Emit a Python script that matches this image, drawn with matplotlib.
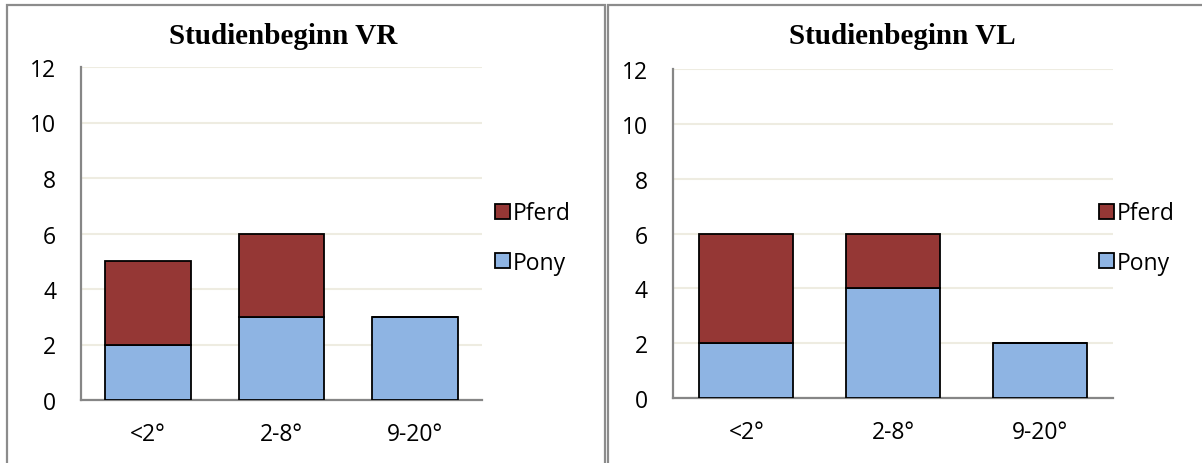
import matplotlib
matplotlib.use("Agg")
import matplotlib.pyplot as plt
from matplotlib.patches import Rectangle, Patch

categories = ["<2°", "2-8°", "9-20°"]
panel_titles = ["Studienbeginn VR", "Studienbeginn VL"]
pony_vr = [2, 3, 3]
pferd_vr = [3, 3, 0]
pony_vl = [2, 4, 2]
pferd_vl = [4, 2, 0]
y_ticks = [0, 2, 4, 6, 8, 10, 12]

PONY = "#8EB4E3"
PFERD = "#953735"
GRID = "#EEECE1"
AXIS = "#868686"
FRAME = "#8C8C8C"

W, H = 1202, 464
fig = plt.figure(figsize=(W / 100, H / 100), dpi=100)
fig.patch.set_facecolor("white")

label_font = ["Open Sans", "DejaVu Sans"]
label_size = 16.5


def px_rect(x0, y0, x1, y1):
    # pixel box (top-left origin) -> figure fraction [left, bottom, width, height]
    return [x0 / W, 1 - y1 / H, (x1 - x0) / W, (y1 - y0) / H]


# outer chart frames
for x0, y0, x1, y1 in [(7, 6, 605, 470), (608, 6, 1210, 470)]:
    fig.patches.append(Rectangle((x0 / W, 1 - y1 / H), (x1 - x0) / W, (y1 - y0) / H,
                                 transform=fig.transFigure, fill=False,
                                 edgecolor=FRAME, linewidth=1.6, zorder=0))

panels = [
    dict(box=(81, 68, 482, 401), pony=pony_vr, pferd=pferd_vr, title=panel_titles[0],
         title_x=283, legend_x=495),
    dict(box=(673, 70, 1113, 399), pony=pony_vl, pferd=pferd_vl, title=panel_titles[1],
         title_x=902, legend_x=1099),
]

for p in panels:
    ax = fig.add_axes(px_rect(*p["box"]))
    x = range(len(categories))
    ax.bar(x, p["pony"], width=0.64, color=PONY, edgecolor="black", linewidth=1.3,
           label="Pony", zorder=3)
    ax.bar(x, p["pferd"], width=0.64, bottom=p["pony"], color=PFERD, edgecolor="black",
           linewidth=1.3, label="Pferd", zorder=3)
    ax.set_xlim(-0.5, len(categories) - 0.5)
    ax.set_ylim(0, 12)
    ax.set_yticks(y_ticks)
    ax.set_xticks(list(x))
    ax.set_xticklabels(categories, family=label_font, fontsize=label_size)
    for lbl in ax.get_yticklabels():
        lbl.set_family(label_font)
        lbl.set_fontsize(label_size)
    ax.tick_params(axis="y", length=0, pad=18)
    ax.tick_params(axis="x", length=0, pad=16)
    ax.grid(axis="y", color=GRID, linewidth=1.5, zorder=0)
    for side in ("top", "right"):
        ax.spines[side].set_visible(False)
    for side in ("left", "bottom"):
        ax.spines[side].set_color(AXIS)
        ax.spines[side].set_linewidth(1.6)

    fig.text(p["title_x"] / W, 1 - 37 / H, p["title"], ha="center", va="center",
             family=["Liberation Serif", "DejaVu Serif"], fontweight="bold", fontsize=21)

    handles = [Patch(facecolor=PFERD, edgecolor="black", linewidth=1.3),
               Patch(facecolor=PONY, edgecolor="black", linewidth=1.3)]
    fig.legend(handles, ["Pferd", "Pony"], loc="center left",
               bbox_to_anchor=(p["legend_x"] / W, 1 - 239 / H), frameon=False,
               prop={"family": label_font, "size": label_size}, handlelength=0.64,
               handleheight=0.64, handletextpad=0.15, labelspacing=1.12,
               borderpad=0, borderaxespad=0)

fig.savefig("out.png", dpi=100, facecolor="white")
